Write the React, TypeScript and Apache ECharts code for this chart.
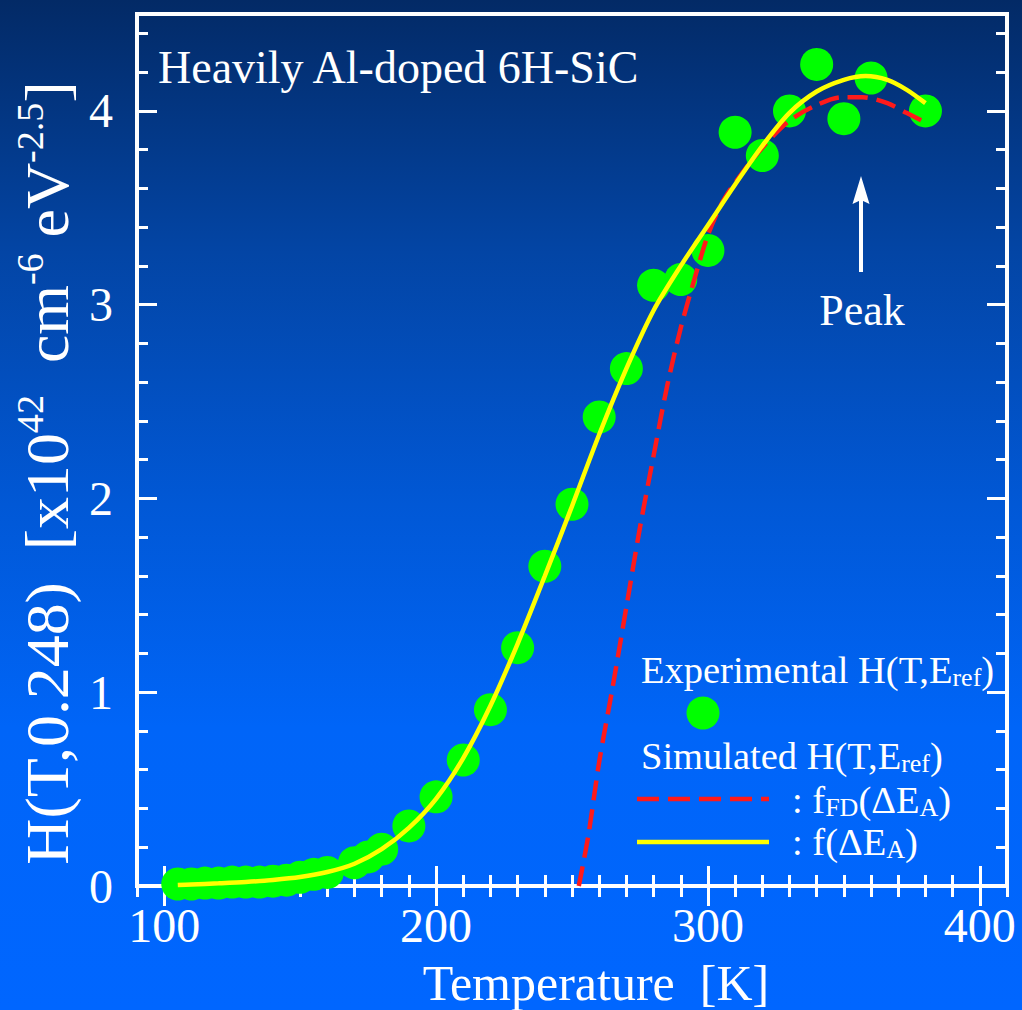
import React, { useEffect, useRef } from "react";
import * as echarts from "echarts";

// ---------- data ----------
const expT = [105, 110, 115, 120, 125, 130, 135, 140, 145, 150, 155, 160, 170, 175, 180, 190, 200, 210, 220, 230, 240, 250, 260, 270, 280, 290, 300, 310, 320, 330, 340, 350, 360, 380];
const expH = [0.01, 0.01, 0.015, 0.015, 0.02, 0.02, 0.02, 0.025, 0.03, 0.045, 0.06, 0.07, 0.12, 0.15, 0.19, 0.31, 0.46, 0.65, 0.91, 1.23, 1.65, 1.97, 2.42, 2.67, 3.10, 3.13, 3.28, 3.89, 3.77, 4.00, 4.24, 3.96, 4.17, 4.00];

const fFdT = [252.5, 256, 260, 265, 270, 275, 280, 285, 290, 295, 300, 305, 310, 320, 330, 340, 349, 357, 366, 373, 380];
const fFdH = [0, 0.26, 0.64, 1.03, 1.44, 1.85, 2.22, 2.58, 2.88, 3.13, 3.36, 3.52, 3.63, 3.81, 3.95, 4.03, 4.07, 4.07, 4.04, 3.99, 3.94];

const fT = [105, 110, 120, 130, 140, 150, 160, 170, 180, 190, 200, 210, 220, 230, 240, 250, 260, 270, 280, 290, 300, 310, 320, 330, 340, 350, 358, 366, 373, 380];
const fH = [0.005, 0.008, 0.014, 0.021, 0.031, 0.046, 0.072, 0.115, 0.19, 0.30, 0.45, 0.66, 0.93, 1.25, 1.60, 1.96, 2.33, 2.67, 2.97, 3.20, 3.41, 3.62, 3.82, 3.99, 4.10, 4.16, 4.18, 4.16, 4.11, 4.04];

const xMajorTicks = [100, 200, 300, 400];
const xMinorTicks = [90, 110, 120, 130, 140, 150, 160, 170, 180, 190, 210, 220, 230, 240, 250, 260, 270, 280, 290, 310, 320, 330, 340, 350, 360, 370, 380, 390, 410];
const yMajorTicks = [0, 1, 2, 3, 4];
const yMinorTicks = [0.2, 0.4, 0.6, 0.8, 1.2, 1.4, 1.6, 1.8, 2.2, 2.4, 2.6, 2.8, 3.2, 3.4, 3.6, 3.8, 4.2, 4.4];

const X_MIN = 90, X_MAX = 410, Y_MIN = 0, Y_MAX = 4.5;

const FONT = "Liberation Serif";
const WHITE = "#ffffff";

function zip(a: number[], b: number[]) {
  return a.map((v, i) => [v, b[i]]);
}

export default function App() {
  const ref = useRef<HTMLDivElement>(null);

  useEffect(() => {
    document.body.style.margin = "0";
    if (!ref.current) return;
    const chart = echarts.init(ref.current, undefined, { renderer: "svg" });

    const tickStyleMajor = { show: true, inside: true, length: 20, lineStyle: { color: WHITE, width: 3 } };
    const tickStyleMinor = { show: true, inside: true, length: 11, lineStyle: { color: WHITE, width: 3 } };

    const xBase = {
      type: "value" as const,
      min: X_MIN,
      max: X_MAX,
      splitLine: { show: false },
      axisLine: { show: false },
    };
    const yBase = {
      type: "value" as const,
      min: Y_MIN,
      max: Y_MAX,
      splitLine: { show: false },
      axisLine: { show: false },
    };

    const legendRich = {
      n: { fontSize: 38.5, fontFamily: FONT, fill: WHITE, lineHeight: 40 },
      b: { fontSize: 26, fontFamily: FONT, fill: WHITE, lineHeight: 18, verticalAlign: "bottom" },
    };

    const option: any = {
      animation: false,
      backgroundColor: new echarts.graphic.LinearGradient(0, 0, 0, 1, [
        { offset: 0, color: "#032a66" },
        { offset: 0.25, color: "#0345a5" },
        { offset: 0.5, color: "#0158d6" },
        { offset: 0.72, color: "#0065f8" },
        { offset: 1, color: "#0066ff" },
      ]),
      grid: {
        left: 137,
        right: 15,
        top: 14,
        bottom: 124,
        show: true,
        borderColor: WHITE,
        borderWidth: 4,
        backgroundColor: "transparent",
        outerBoundsMode: "none",
      },
      xAxis: [
        {
          ...xBase,
          position: "bottom",
          axisTick: { ...tickStyleMajor, customValues: xMajorTicks },
          axisLabel: {
            customValues: xMajorTicks,
            color: WHITE,
            fontFamily: FONT,
            fontSize: 48,
            margin: 15,
          },
        },
        {
          ...xBase,
          position: "bottom",
          axisTick: { ...tickStyleMinor, customValues: xMinorTicks },
          axisLabel: { show: false },
        },
        {
          ...xBase,
          position: "top",
          axisTick: { ...tickStyleMajor, customValues: xMajorTicks },
          axisLabel: { show: false },
        },
        {
          ...xBase,
          position: "top",
          axisTick: { ...tickStyleMinor, customValues: xMinorTicks },
          axisLabel: { show: false },
        },
      ],
      yAxis: [
        {
          ...yBase,
          position: "left",
          axisTick: { ...tickStyleMajor, customValues: yMajorTicks },
          axisLabel: {
            customValues: yMajorTicks,
            color: WHITE,
            fontFamily: FONT,
            fontSize: 48,
            margin: 24,
          },
        },
        {
          ...yBase,
          position: "left",
          axisTick: { ...tickStyleMinor, customValues: yMinorTicks },
          axisLabel: { show: false },
        },
        {
          ...yBase,
          position: "right",
          axisTick: { ...tickStyleMajor, customValues: yMajorTicks },
          axisLabel: { show: false },
        },
        {
          ...yBase,
          position: "right",
          axisTick: { ...tickStyleMinor, customValues: yMinorTicks },
          axisLabel: { show: false },
        },
      ],
      series: [
        {
          name: "Experimental",
          type: "scatter",
          data: zip(expT, expH),
          symbol: "circle",
          symbolSize: 33,
          itemStyle: { color: "#00ff00", opacity: 1 },
          z: 2,
        },
        {
          name: "fFD",
          type: "line",
          data: zip(fFdT, fFdH),
          showSymbol: false,
          smooth: 0.3,
          lineStyle: { color: "#ff1a1a", width: 4.5, type: [20, 9] },
          z: 3,
        },
        {
          name: "f",
          type: "line",
          data: zip(fT, fH),
          showSymbol: false,
          smooth: 0.3,
          lineStyle: { color: "#ffff00", width: 4.5 },
          z: 4,
        },
      ],
      graphic: [
        {
          type: "text",
          x: 158,
          y: 67,
          style: {
            text: "Heavily Al-doped 6H-SiC",
            fill: WHITE,
            fontFamily: FONT,
            fontSize: 46,
            verticalAlign: "middle",
            align: "left",
          },
          z: 10,
        },
        // Y axis title
        {
          type: "text",
          x: 47,
          y: 473,
          rotation: Math.PI / 2,
          scaleX: 1.03,
          style: {
            text: "{n|H(T,0.248)  [x10}{s|42}{n|  cm}{s|-6}{n| eV}{s|-2.5}{n|]}",
            align: "center",
            verticalAlign: "middle",
            rich: {
              n: { fontSize: 62, fontFamily: FONT, fill: WHITE, lineHeight: 70 },
              s: { fontSize: 37, fontFamily: FONT, fill: WHITE, lineHeight: 37, verticalAlign: "top" },
            },
          },
          z: 10,
        },
        // X axis title
        {
          type: "text",
          x: 596,
          y: 983,
          style: {
            text: "Temperature  [K]",
            fill: WHITE,
            fontFamily: FONT,
            fontSize: 50,
            align: "center",
            verticalAlign: "middle",
          },
          z: 10,
        },
        // Peak annotation
        {
          type: "line",
          shape: { x1: 861, y1: 272, x2: 861, y2: 196 },
          style: { stroke: WHITE, lineWidth: 4 },
          z: 10,
        },
        {
          type: "polygon",
          shape: { points: [[861, 176], [869.5, 204], [861, 200], [852.5, 204]] },
          style: { fill: WHITE },
          z: 10,
        },
        {
          type: "text",
          x: 862,
          y: 310,
          style: {
            text: "Peak",
            fill: WHITE,
            fontFamily: FONT,
            fontSize: 44,
            align: "center",
            verticalAlign: "middle",
          },
          z: 10,
        },
        // Legend
        {
          type: "text",
          x: 641,
          y: 670,
          style: {
            text: "{n|Experimental H(T,E}{b|ref}{n|)}",
            align: "left",
            verticalAlign: "middle",
            rich: legendRich,
          },
          z: 10,
        },
        {
          type: "circle",
          shape: { cx: 703, cy: 713, r: 16.5 },
          style: { fill: "#00ff00" },
          z: 10,
        },
        {
          type: "text",
          x: 641,
          y: 756,
          style: {
            text: "{n|Simulated H(T,E}{b|ref}{n|)}",
            align: "left",
            verticalAlign: "middle",
            rich: legendRich,
          },
          z: 10,
        },
        {
          type: "line",
          shape: { x1: 637, y1: 799, x2: 769, y2: 799 },
          style: { stroke: "#ff1a1a", lineWidth: 4.5, lineDash: [22, 9] },
          z: 10,
        },
        {
          type: "text",
          x: 792,
          y: 800,
          style: {
            text: "{n|: f}{b|FD}{n|(ΔE}{b|A}{n|)}",
            align: "left",
            verticalAlign: "middle",
            rich: legendRich,
          },
          z: 10,
        },
        {
          type: "line",
          shape: { x1: 637, y1: 842, x2: 769, y2: 842 },
          style: { stroke: "#ffff00", lineWidth: 4.5 },
          z: 10,
        },
        {
          type: "text",
          x: 792,
          y: 842,
          style: {
            text: "{n|: f(ΔE}{b|A}{n|)}",
            align: "left",
            verticalAlign: "middle",
            rich: legendRich,
          },
          z: 10,
        },
      ],
    };

    chart.setOption(option);
    return () => {
      chart.dispose();
    };
  }, []);

  return <div ref={ref} style={{ width: 1022, height: 1010 }} />;
}
